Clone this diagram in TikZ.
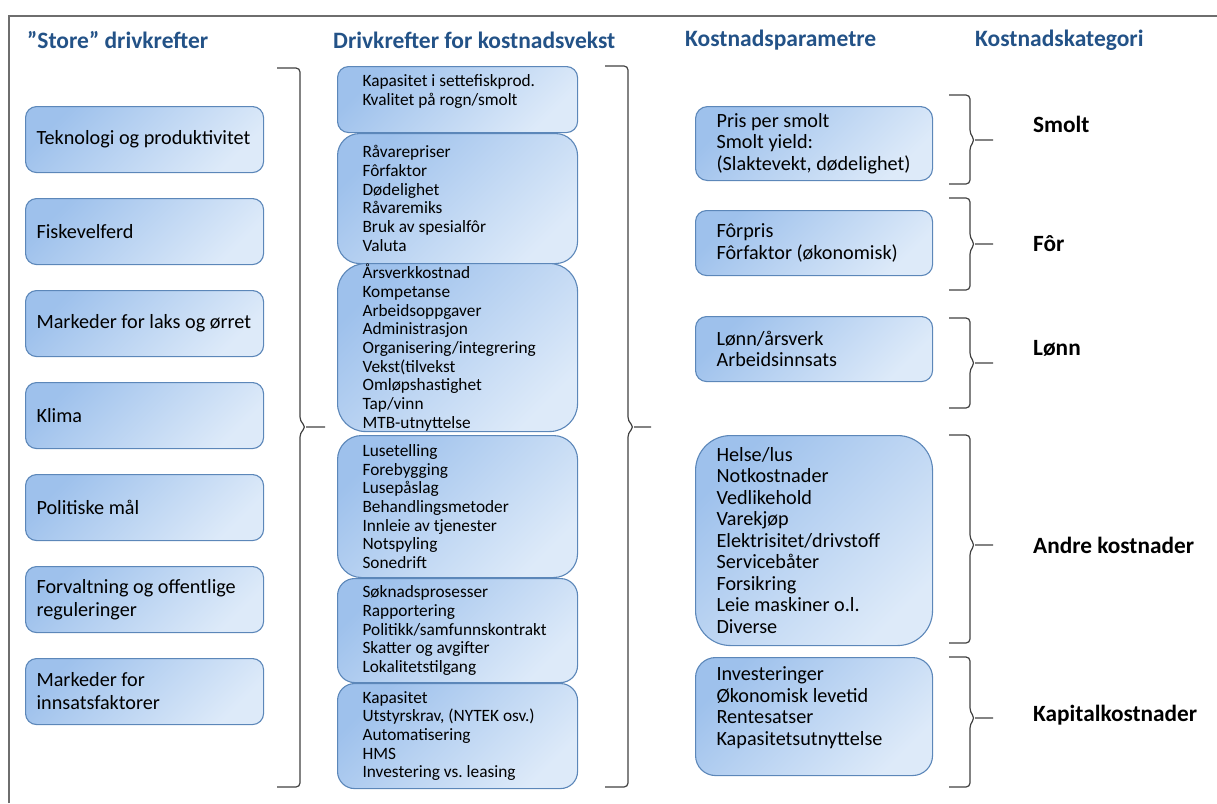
\documentclass[tikz,border=0pt]{standalone}
\usepackage{fontspec}
\setmainfont{Carlito}
\usetikzlibrary{positioning}
\definecolor{headblue}{RGB}{35,82,135}
\definecolor{boxdark}{RGB}{158,193,236}
\definecolor{boxlight}{RGB}{221,234,249}
\definecolor{boxline}{RGB}{92,135,185}
\definecolor{framegray}{RGB}{110,110,110}
\frenchspacing

\begin{document}
\begin{tikzpicture}[
    x=1pt, y=-1pt,
    head/.style={anchor=west, inner sep=0pt, text=headblue, font=\fontsize{23.5}{27}\selectfont\bfseries},
    cat/.style={anchor=west, inner sep=0pt, font=\fontsize{23.3}{27}\selectfont\bfseries},
    gbox/.style={draw=boxline, line width=1.1pt, top color=boxdark, bottom color=boxlight, shading angle=45, anchor=north west, align=flush left, inner ysep=0pt},
    lbox/.style={gbox, rounded corners=11pt, text width=216pt, inner xsep=11pt, minimum height=66pt, font=\fontsize{20.2}{23}\selectfont},
    mbox/.style={gbox, text width=190pt, inner xsep=25pt, font=\fontsize{17.3}{18.7}\selectfont},
    rbox/.style={gbox, text width=195pt, inner xsep=21pt, font=\fontsize{20.2}{21.5}\selectfont},
    bracket/.style={draw=black!75, line width=1.2pt, rounded corners=4pt}
]
    \useasboundingbox (0,0) rectangle (1217,803);
    \draw[framegray, line width=1.5pt] (9,803) -- (9,16) -- (1217,16);

    % column headings
    \node[head] (hstore) at (27,40) {”Store” drivkrefter};
    \node[head] (hdriv) at (333,40) {Drivkrefter for kostnadsvekst};
    \node[head] (hpar) at (685,40) {Kostnadsparametre};
    \node[head] (hkat) at (975,40) {Kostnadskategori};

    % store drivkrefter
    \node[lbox] (tek) at (25,106) {Teknologi og produktivitet};
    \node[lbox] (fisk) at (25,198) {Fiskevelferd};
    \node[lbox] (laks) at (25,290) {Markeder for laks og ørret};
    \node[lbox] (klima) at (25,382) {Klima};
    \node[lbox] (pol) at (25,474) {Politiske mål};
    \node[lbox] (forv) at (25,566) {Forvaltning og offentlige\\reguleringer};
    \node[lbox] (innsats) at (25,658) {Markeder for\\innsatsfaktorer};

    % drivkrefter for kostnadsvekst
    \node[mbox, minimum height=66pt, rounded corners=11pt] (dsmolt) at (337,66) {Kapasitet i settefiskprod.\\Kvalitet på rogn/smolt\\\mbox{}};
    \node[mbox, minimum height=130pt, rounded corners=22pt] (dfor) at (337,133) {Råvarepriser\\Fôrfaktor\\Dødelighet\\Råvaremiks\\Bruk av spesialfôr\\Valuta};
    \node[mbox, minimum height=168pt, rounded corners=28pt] (dlonn) at (337,263) {Årsverkkostnad\\Kompetanse\\Arbeidsoppgaver\\Administrasjon\\Organisering/integrering\\Vekst(tilvekst\\Omløpshastighet\\Tap/vinn\\MTB-utnyttelse};
    \node[mbox, minimum height=142pt, rounded corners=24pt] (dlus) at (337,435) {Lusetelling\\Forebygging\\Lusepåslag\\Behandlingsmetoder\\Innleie av tjenester\\Notspyling\\Sonedrift};
    \node[mbox, minimum height=104pt, rounded corners=17pt] (dreg) at (337,578) {Søknadsprosesser\\Rapportering\\Politikk/samfunnskontrakt\\Skatter og avgifter\\Lokalitetstilgang};
    \node[mbox, minimum height=105pt, rounded corners=17pt] (dkap) at (337,683) {Kapasitet\\Utstyrskrav, (NYTEK osv.)\\Automatisering\\HMS\\Investering vs. leasing};

    % kostnadsparametre
    \node[rbox, minimum height=74pt, rounded corners=12pt] (psmolt) at (695,106) {Pris per smolt\\Smolt yield:\\\mbox{(Slaktevekt, dødelighet)}};
    \node[rbox, minimum height=65pt, rounded corners=11pt] (pfor) at (695,210) {Fôrpris\\Fôrfaktor (økonomisk)};
    \node[rbox, minimum height=65pt, rounded corners=11pt] (plonn) at (695,316) {Lønn/årsverk\\Arbeidsinnsats};
    \node[rbox, minimum height=210pt, rounded corners=35pt] (pandre) at (695,435) {Helse/lus\\Notkostnader\\Vedlikehold\\Varekjøp\\Elektrisitet/drivstoff\\Servicebåter\\Forsikring\\Leie maskiner o.l.\\Diverse};
    \node[rbox, minimum height=118pt, rounded corners=20pt] (pkap) at (695,657) {Investeringer\\Økonomisk levetid\\Rentesatser\\Kapasitetsutnyttelse\\\mbox{}};

    % kostnadskategori
    \node[cat] (ksmolt) at (1033,124) {Smolt};
    \node[cat] (kfor) at (1033,244) {Fôr};
    \node[cat] (klonn) at (1033,348) {Lønn};
    \node[cat] (kandre) at (1033,545) {Andre kostnader};
    \node[cat] (kkap) at (1033,715) {Kapitalkostnader};

    % klammer
    \draw[bracket] (277,68) -| (300,421) -- (306,427) -- (300,433) |- (277,787) (306,427) -- (325,427);
    \draw[bracket] (605,66) -| (628,421) -- (634,427) -- (628,433) |- (605,787) (634,427) -- (651,427);
    \draw[bracket] (949,95) -| (970,134) -- (975,140) -- (970,146) |- (949,184) (975,140) -- (993,140);
    \draw[bracket] (949,198) -| (970,238) -- (975,244) -- (970,250) |- (949,290) (975,244) -- (993,244);
    \draw[bracket] (949,318) -| (970,357) -- (975,363) -- (970,369) |- (949,408) (975,363) -- (993,363);
    \draw[bracket] (949,435) -| (970,539) -- (975,545) -- (970,551) |- (949,643) (975,545) -- (993,545);
    \draw[bracket] (949,657) -| (970,712) -- (975,718) -- (970,724) |- (949,787) (975,718) -- (993,718);
\end{tikzpicture}
\end{document}
